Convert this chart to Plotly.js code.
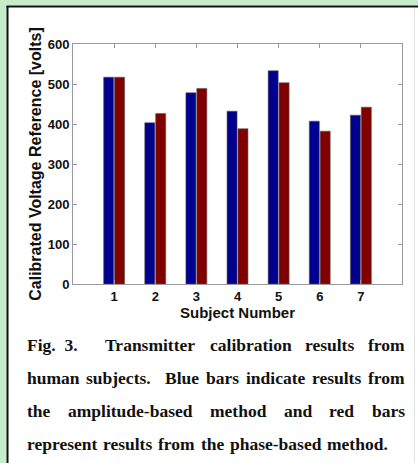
<!DOCTYPE html>
<html>
<head>
<meta charset="utf-8">
<script src="https://cdn.plot.ly/plotly-3.0.1.min.js"></script>
<style>
html,body{margin:0;padding:0;background:#fff;}
#chart{width:418px;height:463px;}
</style>
</head>
<body>
<div id="chart"></div>
<script>
// ---- data ----
const subjects = [1, 2, 3, 4, 5, 6, 7];
const amplitudeBased = [517, 403, 478, 432, 533, 407, 422];
const phaseBased = [517, 426, 489, 388, 503, 382, 442];
const yTicks = [0, 100, 200, 300, 400, 500, 600];
const xTitle = "Subject Number";
const yTitle = "Calibrated Voltage Reference [volts]";
const captionLines = [
  ["Fig.\u00a0\u00a03.", "Transmitter", "calibration", "results", "from"],
  ["human", "subjects.", "Blue", "bars", "indicate", "results", "from"],
  ["the", "amplitude-based", "method", "and", "red", "bars"],
  ["represent", "results", "from", "the", "phase-based", "method."]
];

// ---- layout geometry (pixels) ----
const W = 418, H = 463;
const ML = 73, MR = 16, MT = 44, MB = 179;
const PW = W - ML - MR, PH = H - MT - MB;
const px2x = p => (p - ML) / PW;
const py2y = p => (H - MB - p) / PH;

const capSize = 17.5;
const capFamily = "Liberation Serif, Times New Roman, serif";
const lineY = [345, 378, 411, 444];
const lineLeft = 27;
const lineRight = [405, 405, 405, 388];
const gapWeights = [[2, 1, 1, 1], [1, 2, 1, 1, 1, 1], [1, 1, 1, 1, 1], [1, 1, 1, 1, 1]];

const canvas = document.createElement('canvas');
const ctx = canvas.getContext('2d');
ctx.font = "bold " + capSize + "px 'Liberation Serif'";

const annotations = [];
captionLines.forEach((words, li) => {
  const widths = words.map(w => ctx.measureText(w).width);
  const total = widths.reduce((a, b) => a + b, 0);
  const wsum = gapWeights[li].reduce((a, b) => a + b, 0);
  const unit = (lineRight[li] - lineLeft - total) / wsum;
  let x = lineLeft;
  words.forEach((w, wi) => {
    annotations.push({
      text: w, xref: 'paper', yref: 'paper',
      x: px2x(x), y: py2y(lineY[li]),
      xanchor: 'left', yanchor: 'middle', showarrow: false,
      borderpad: 0, borderwidth: 0,
      font: {family: capFamily, size: capSize, color: '#111', weight: 'bold'}
    });
    if (wi < words.length - 1) x += widths[wi] + unit * gapWeights[li][wi];
  });
});

const shapes = [
  {type: 'rect', xref: 'paper', yref: 'paper', x0: px2x(0), x1: px2x(W), y0: py2y(0), y1: py2y(5.5), fillcolor: '#c6ecc9', line: {width: 0}, layer: 'below'},
  {type: 'rect', xref: 'paper', yref: 'paper', x0: px2x(0), x1: px2x(6.5), y0: py2y(0), y1: py2y(H), fillcolor: '#c6ecc9', line: {width: 0}, layer: 'below'},
  {type: 'line', xref: 'paper', yref: 'paper', x0: px2x(6.5), x1: px2x(W), y0: py2y(6.5), y1: py2y(6.5), line: {color: '#111', width: 2}},
  {type: 'line', xref: 'paper', yref: 'paper', x0: px2x(7.5), x1: px2x(7.5), y0: py2y(6), y1: py2y(H), line: {color: '#111', width: 2}},
  {type: 'line', xref: 'paper', yref: 'paper', x0: px2x(414.5), x1: px2x(414.5), y0: py2y(8), y1: py2y(H), line: {color: '#e2e2e2', width: 1}}
];

const traces = [
  {type: 'bar', name: 'Amplitude-based', x: subjects, y: amplitudeBased,
   marker: {color: '#00008f', line: {color: '#555', width: 0.6}}},
  {type: 'bar', name: 'Phase-based', x: subjects, y: phaseBased,
   marker: {color: '#800000', line: {color: '#555', width: 0.6}}}
];

const tickFont = {family: 'Liberation Sans, Arial, sans-serif', size: 13, color: '#111', weight: 'bold'};
const layout = {
  width: W, height: H,
  margin: {l: ML, r: MR, t: MT, b: MB, pad: 0},
  paper_bgcolor: '#fff', plot_bgcolor: '#fff',
  showlegend: false,
  barmode: 'group', bargap: 0.47, bargroupgap: 0.08,
  xaxis: {
    range: [0, 8], tickmode: 'array', tickvals: subjects, ticktext: subjects.map(String),
    ticks: 'inside', ticklen: 4, tickcolor: '#9a9a9a', tickwidth: 1,
    showline: true, linecolor: '#9a9a9a', linewidth: 1, mirror: 'ticks',
    showgrid: false, zeroline: false, tickfont: tickFont,
    title: {text: xTitle, standoff: 2, font: {family: 'Liberation Sans, Arial, sans-serif', size: 15, color: '#111', weight: 'bold'}},
    automargin: false
  },
  yaxis: {
    range: [0, 600], tickmode: 'array', tickvals: yTicks,
    ticks: 'inside', ticklen: 4, tickcolor: '#9a9a9a', tickwidth: 1,
    showline: true, linecolor: '#9a9a9a', linewidth: 1, mirror: 'ticks',
    showgrid: false, zeroline: false, tickfont: tickFont,
    title: {text: yTitle, standoff: 2, font: {family: 'Liberation Sans, Arial, sans-serif', size: 16, color: '#111', weight: 'bold'}},
    automargin: false
  },
  shapes: shapes,
  annotations: annotations
};

Plotly.newPlot('chart', traces, layout, {staticPlot: true, displayModeBar: false});
</script>
</body>
</html>
